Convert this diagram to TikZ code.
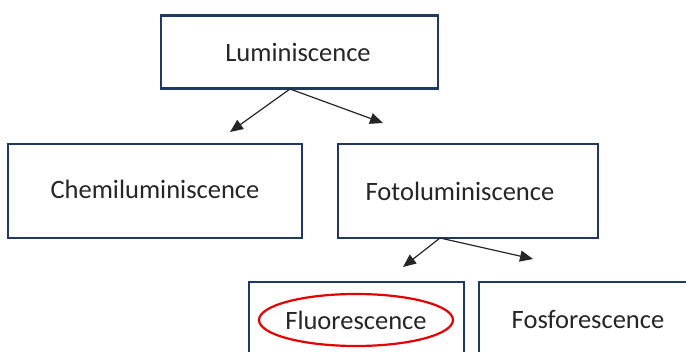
\documentclass[tikz,border=0pt]{standalone}
\usepackage{fontspec}
\setmainfont{Carlito}
\usetikzlibrary{arrows.meta}
\definecolor{boxblue}{HTML}{1F3864}
\tikzset{
  box/.style={draw=boxblue, line width=2.4pt, fill=white, inner sep=0pt},
  lbl/.style={inner sep=0pt, font=\fontsize{26.5}{30}\selectfont, text=black!85},
  arr/.style={draw=black!85, line width=1.2pt, -{Triangle[length=13pt,width=11pt]}},
}
\begin{document}
\begin{tikzpicture}[x=1pt,y=-1pt]
\useasboundingbox (0,0) rectangle (686,352);
\clip (0,0) rectangle (686,352);
% boxes
\node[box, minimum width=277pt, minimum height=73pt] (lum) at (299.5,52) {};
\node[lbl] (lumt) at (298,52) {Luminiscence};
\node[box, minimum width=294pt, minimum height=94pt] (chem) at (155,191) {};
\node[lbl] (chemt) at (155,189) {Chemiluminiscence};
\node[box, minimum width=260pt, minimum height=94pt] (foto) at (468,191) {};
\node[lbl] (fotot) at (460,191) {Fotoluminiscence};
\node[box, minimum width=215pt, minimum height=120pt] (fluo) at (356.5,342) {};
\node[lbl] (fluot) at (356,320) {Fluorescence};
\node[box, minimum width=230pt, minimum height=120pt] (fosf) at (594,342) {};
\node[lbl] (fosft) at (588,320) {Fosforescence};
% red ellipse
\draw[red!90!black, line width=2.2pt] (fluot.center) ellipse [x radius=97, y radius=26];
% arrows
\coordinate (l1) at (290,89);
\coordinate (t1) at (230,132);
\coordinate (t2) at (383,123);
\coordinate (l2) at (440,238);
\coordinate (t3) at (403,267);
\coordinate (t4) at (533,259);
\draw[arr] (l1) -- (t1);
\draw[arr] (l1) -- (t2);
\draw[arr] (l2) -- (t3);
\draw[arr] (l2) -- (t4);
\end{tikzpicture}
\end{document}
